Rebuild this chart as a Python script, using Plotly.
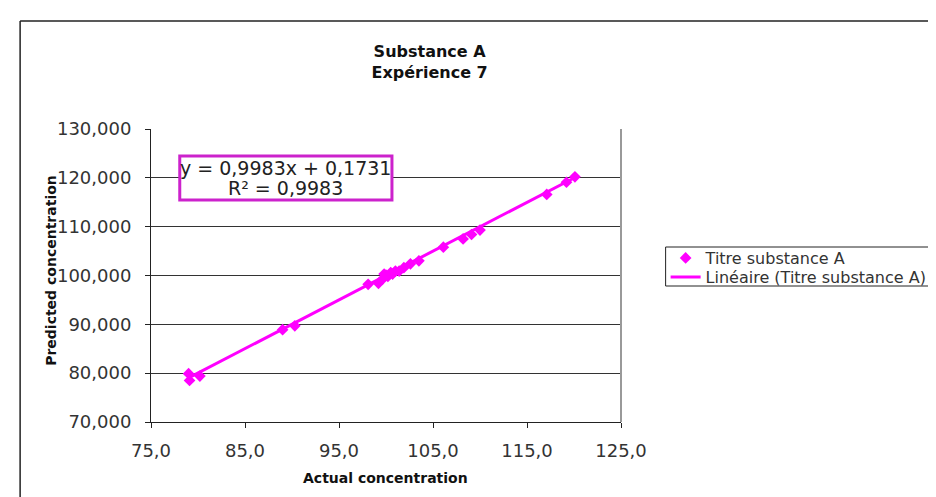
import plotly.graph_objects as go

# Data
actual = [79.0, 79.1, 80.2, 89.0, 90.3, 98.1, 99.2, 99.6, 99.8, 100.0, 100.2, 100.5, 100.7,
          101.0, 101.4, 101.9, 102.6, 103.5, 106.1, 108.2, 109.1, 110.0, 117.1, 119.2, 120.1]
predicted = [79.9, 78.5, 79.4, 88.9, 89.7, 98.2, 98.4, 99.2, 100.3, 100.1, 99.8, 100.6, 100.3,
             100.9, 100.9, 101.6, 102.4, 103.0, 105.8, 107.5, 108.4, 109.3, 116.6, 119.1, 120.2]
slope = 0.9983
intercept = 0.1731
r2 = 0.9983

x_ticks = [75, 85, 95, 105, 115, 125]
x_ticktext = ["75,0", "85,0", "95,0", "105,0", "115,0", "125,0"]
y_ticks = [70, 80, 90, 100, 110, 120, 130]
y_ticktext = ["70,000", "80,000", "90,000", "100,000", "110,000", "120,000", "130,000"]

W, H = 936, 497
L, R, T, B = 143, 617, 121, 414
FONT = "DejaVu Sans"
MAG = "#FF00FF"

trend_x = [min(actual), max(actual)]
trend_y = [slope * v + intercept for v in trend_x]

def fmt(v):
    return str(v).replace(".", ",")

fig = go.Figure()
fig.add_trace(go.Scatter(
    x=actual, y=predicted, mode="markers", name="Titre substance A",
    marker=dict(symbol="diamond", size=9, color=MAG, line=dict(width=0)),
    legend="legend",
))
fig.add_trace(go.Scatter(
    x=trend_x, y=trend_y, mode="lines", name="Linéaire (Titre substance A)",
    line=dict(color=MAG, width=3),
    legend="legend2",
))

def px_x(p):
    return (p - L) / (R - L)

def px_y(p):
    return (B - p) / (B - T)

leg_common = dict(xanchor="left", yanchor="middle", xref="paper", yref="paper",
                  borderwidth=0, bgcolor="rgba(0,0,0,0)",
                  font=dict(size=16, color="#333", family=FONT), itemwidth=30)

fig.update_layout(
    width=W, height=H,
    margin=dict(l=L, r=W - R, t=T, b=H - B, pad=0),
    paper_bgcolor="white", plot_bgcolor="white",
    font=dict(family=FONT, color="#222"),
    title=dict(text="<b>Substance A<br>Expérience 7</b>", x=px_x(424), xref="paper",
               xanchor="center", y=1 - 49 / H, yref="container", yanchor="middle",
               font=dict(size=16, color="#111", family=FONT)),
    showlegend=True,
    legend=dict(x=px_x(662), y=px_y(250), **leg_common),
    legend2=dict(x=px_x(662), y=px_y(269), **leg_common),
)

fig.update_xaxes(
    range=[75, 125], tickvals=x_ticks, ticktext=x_ticktext,
    showgrid=False, zeroline=False, showline=True, linecolor="#222", linewidth=1,
    ticks="outside", ticklen=5, tickcolor="#222", ticklabelstandoff=7,
    tickfont=dict(size=18, color="#333", family=FONT),
)
fig.update_yaxes(
    range=[70, 130], tickvals=y_ticks, ticktext=y_ticktext,
    showgrid=True, gridcolor="#333", gridwidth=1, zeroline=False,
    showline=True, linecolor="#222", linewidth=1,
    ticks="outside", ticklen=5, tickcolor="#222", ticklabelstandoff=10,
    tickfont=dict(size=18, color="#333", family=FONT),
)

annotations = [
    dict(text=f"y = {fmt(slope)}x + {fmt(intercept)}", x=px_x(279), y=px_y(160),
         xref="paper", yref="paper", xanchor="center", yanchor="middle",
         showarrow=False, font=dict(size=19, color="#222", family=FONT)),
    dict(text=f"R² = {fmt(r2)}", x=px_x(279), y=px_y(180),
         xref="paper", yref="paper", xanchor="center", yanchor="middle",
         showarrow=False, font=dict(size=19, color="#222", family=FONT)),
    dict(text="<b>Actual concentration</b>", x=px_x(379), y=px_y(470), xref="paper", yref="paper",
         xanchor="center", yanchor="middle", showarrow=False,
         font=dict(size=14, color="#111", family=FONT)),
    dict(text="<b>Predicted concentration</b>", x=px_x(42), y=px_y(262), xref="paper", yref="paper",
         xanchor="center", yanchor="middle", showarrow=False, textangle=-90,
         font=dict(size=14, color="#111", family=FONT)),
]
fig.update_layout(annotations=annotations)

shapes = [
    # equation box
    dict(type="rect", xref="paper", yref="paper", x0=px_x(172), x1=px_x(386),
         y0=px_y(192), y1=px_y(148), line=dict(color="#CC22CC", width=3),
         fillcolor="white", layer="above"),
    # legend frame
    dict(type="rect", xref="paper", yref="paper", x0=px_x(662), x1=px_x(W + 10),
         y0=px_y(278), y1=px_y(239), line=dict(color="#222", width=1),
         fillcolor="white", layer="below"),
    # right border of plot area
    dict(type="line", xref="paper", yref="paper", x0=1, x1=1, y0=0, y1=1,
         line=dict(color="#999", width=2)),
    # outer chart border (left & top)
    dict(type="line", xref="paper", yref="paper", x0=px_x(11), x1=px_x(11), y0=px_y(13), y1=px_y(H + 5),
         line=dict(color="#222", width=1.5)),
    dict(type="line", xref="paper", yref="paper", x0=px_x(11), x1=px_x(W + 5), y0=px_y(13), y1=px_y(13),
         line=dict(color="#222", width=1.5)),
]
fig.update_layout(shapes=shapes)

fig.write_html("out.html")
